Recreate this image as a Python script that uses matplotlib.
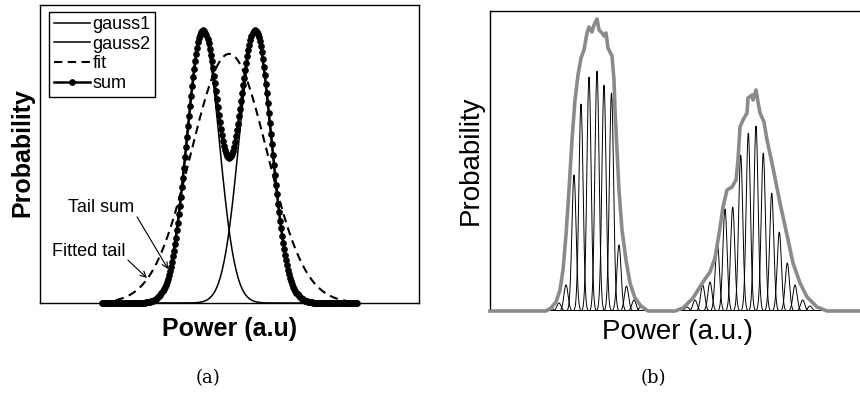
import numpy as np
import matplotlib
matplotlib.use("Agg")
import matplotlib.pyplot as plt

plt.rcParams['font.family'] = ['Liberation Sans', 'DejaVu Sans']

# ---------------- Panel (a) data (arbitrary units) ----------------
power_a_range = [1.64, 8.36]          # span of the plotted curves
n_points_a = 250
gauss_means = [4.30, 5.68]            # gauss1, gauss2 centres
gauss_sigma = [0.425, 0.425]
gauss_amp = [0.91, 0.91]
fit_mean = 4.99
fit_sigma = 1.0
fit_amp = 0.836
legend_labels = ['gauss1', 'gauss2', 'fit', 'sum']
note_tail_sum = 'Tail sum'
note_fitted_tail = 'Fitted tail'

# ---------------- Panel (b) data (arbitrary units) ----------------
cluster1_centers = [61, 69, 76, 84, 91, 99, 107, 114, 121.5, 129, 136.5, 144, 151]
cluster1_heights = [3, 8, 26, 136, 207, 234, 240, 226, 218, 66, 25, 11, 4]
cluster2_centers = [197, 205, 212.7, 220, 227.3, 235, 242.7, 250.7, 258.3, 266,
                    273.3, 281.7, 289.3, 297.3, 305, 312.7, 320]
cluster2_heights = [4, 11, 26, 29, 69, 102, 104, 156, 178, 185, 158, 118, 79, 48,
                    26, 11, 5]
peak_sigma_b = 2.1
cluster1_span = [61, 151]
cluster2_span = [190, 327]

envelope_x = [0, 56, 61, 66, 70, 73, 76, 79, 82, 85, 88, 91, 94, 97, 99, 102, 104,
              107, 109, 112, 114, 116, 118, 122, 124, 125, 127, 129, 132, 134, 136,
              140, 145, 151, 158,
              185, 193, 203, 213, 220, 225, 230, 233, 237, 242, 246, 248, 250, 253,
              257, 258, 262, 263, 266, 268, 270, 274, 277, 282, 290, 297, 303, 310,
              317, 327, 337, 370]
envelope_y = [0, 0, 3, 9, 21, 41, 76, 121, 171, 211, 236, 253, 261, 278, 284, 279,
              286, 292, 281, 278, 275, 278, 263, 255, 231, 201, 161, 121, 81, 66, 51,
              28, 13, 5, 0,
              0, 3, 13, 29, 39, 53, 83, 104, 121, 124, 131, 151, 184, 191,
              198, 213, 216, 211, 221, 209, 198, 189, 171, 148, 108, 76, 48, 28,
              14, 4, 0, 0]


def gauss(x, a, m, s):
    return a * np.exp(-(x - m) ** 2 / (2 * s ** 2))


fig = plt.figure(figsize=(8.6, 3.94), dpi=100)

# ---------------- Panel (a) ----------------
axa = fig.add_axes([40 / 860, 1 - 303 / 394, 379 / 860, 298 / 394])
xa = np.linspace(power_a_range[0], power_a_range[1], n_points_a)
g1 = gauss(xa, gauss_amp[0], gauss_means[0], gauss_sigma[0])
g2 = gauss(xa, gauss_amp[1], gauss_means[1], gauss_sigma[1])
fit = gauss(xa, fit_amp, fit_mean, fit_sigma)
l1, = axa.plot(xa, g1, color='black', lw=1.1, zorder=3)
l2, = axa.plot(xa, g2, color='black', lw=1.1, zorder=3)
l3, = axa.plot(xa, fit, color='black', lw=1.5, ls=(0, (4, 2.6)), zorder=3)
l4, = axa.plot(xa, g1 + g2, color='black', lw=1.8, marker='o', markersize=3.8,
               zorder=4, clip_on=False)
axa.set_xlim(0, 10)
axa.set_ylim(0, 1)
axa.set_xticks([])
axa.set_yticks([])
for sp in axa.spines.values():
    sp.set_linewidth(1.0)
leg = axa.legend([l1, l2, l3, l4], legend_labels, loc='upper left',
                 bbox_to_anchor=(0.024, 0.978), fontsize=13, frameon=True,
                 fancybox=False, edgecolor='black', framealpha=1,
                 handlelength=2.0, handletextpad=0.15, labelspacing=0.15,
                 borderpad=0.25, borderaxespad=0.0)
leg.get_frame().set_linewidth(1.0)

axa.text(0.74, 0.319, note_tail_sum, fontsize=13, va='center', ha='left')
axa.text(0.32, 0.174, note_fitted_tail, fontsize=13, va='center', ha='left')
axa.annotate('', xy=(3.38, 0.114), xytext=(2.56, 0.289),
             arrowprops=dict(arrowstyle='->', lw=0.8, color='black',
                             shrinkA=0, shrinkB=0))
axa.annotate('', xy=(2.82, 0.084), xytext=(2.32, 0.144),
             arrowprops=dict(arrowstyle='->', lw=0.8, color='black',
                             shrinkA=0, shrinkB=0))

fig.text(22.5 / 860, 1 - 153 / 394, 'Probability', rotation=90, fontsize=18,
         fontweight='bold', ha='center', va='center')
fig.text(230 / 860, 1 - 329 / 394, 'Power (a.u)', fontsize=18,
         fontweight='bold', ha='center', va='center')
fig.text(208 / 860, 1 - 378 / 394, '(a)', fontsize=13, family='DejaVu Serif',
         ha='center', va='center')

# ---------------- Panel (b) ----------------
axb = fig.add_axes([490 / 860, 1 - 311 / 394, 370 / 860, 300 / 394])
for centers, heights, span in ((cluster1_centers, cluster1_heights, cluster1_span),
                               (cluster2_centers, cluster2_heights, cluster2_span)):
    xs = np.linspace(span[0] - 6, span[1] + 6, 600)
    for c, h in zip(centers, heights):
        axb.plot(xs, gauss(xs, h, c, peak_sigma_b), color='black', lw=0.7, zorder=3)
axb.plot(envelope_x, envelope_y, color='#8a8a8a', lw=2.6, zorder=4,
         solid_joinstyle='round', clip_on=False)
axb.set_xlim(0, 370)
axb.set_ylim(0, 300)
axb.set_xticks([])
axb.set_yticks([])
axb.spines['right'].set_visible(False)
axb.spines['bottom'].set_visible(False)
axb.spines['left'].set_linewidth(1.0)
axb.spines['top'].set_linewidth(1.0)

fig.text(471 / 860, 1 - 160 / 394, 'Probability', rotation=90, fontsize=20,
         ha='center', va='center')
fig.text(678 / 860, 1 - 332 / 394, 'Power (a.u.)', fontsize=20,
         ha='center', va='center')
fig.text(653 / 860, 1 - 378 / 394, '(b)', fontsize=13, family='DejaVu Serif',
         ha='center', va='center')

fig.savefig('out.png', dpi=100)
